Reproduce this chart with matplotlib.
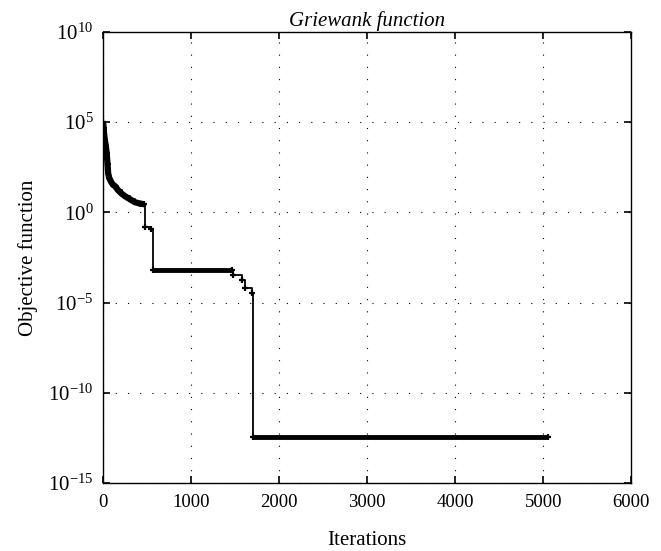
import matplotlib
matplotlib.use("Agg")
import matplotlib.pyplot as plt
from matplotlib.ticker import LogFormatterSciNotation

plt.rcParams["font.family"] = ["Liberation Serif", "DejaVu Serif"]
plt.rcParams["mathtext.fontset"] = "custom"
plt.rcParams["mathtext.rm"] = "Liberation Serif"
plt.rcParams["mathtext.it"] = "Liberation Serif:italic"

# best-so-far objective value
iterations = [0, 5, 12, 20, 30, 40, 50, 57, 70, 90, 110, 136, 170, 210, 250,
              300, 364, 420, 470, 480, 540, 570, 1460, 1480, 1575, 1615, 1690,
              1700, 5050]
objective = [1e5, 5e4, 2e4, 1e4, 5e3, 2e3, 5e2, 1.5e2, 80, 50, 35, 28, 17, 11,
             7.8, 5.5, 3.6, 3.1, 2.8, 0.15, 0.12, 6.8e-4, 6.8e-4, 3.6e-4,
             1.9e-4, 6.8e-5, 3.6e-5, 3.6e-13, 3.6e-13]

x_ticks = [0, 1000, 2000, 3000, 4000, 5000, 6000]
y_ticks = [1e-15, 1e-10, 1e-5, 1e0, 1e5, 1e10]

fig = plt.figure(figsize=(6.61, 5.51), dpi=100)
ax = fig.add_axes([0.156, 0.1234, 0.799, 0.8186])

ax.plot(iterations, objective, color="black", lw=1.3, drawstyle="steps-post")
ax.plot(iterations, objective, color="black", lw=0, marker="+", ms=5, mew=1.6)

# early decay looks like a thick smooth band in the reference
n_early = iterations.index(470) + 1
ax.plot(iterations[:n_early], objective[:n_early], color="black", lw=4.5,
        solid_capstyle="butt")

# long flat plateaus appear thick (dense '+' markers)
i_a = iterations.index(570)
i_b = iterations.index(1700)
ax.hlines([objective[i_a], objective[i_b]],
          [iterations[i_a], iterations[i_b]],
          [iterations[i_a + 1], iterations[i_b + 1]],
          color="black", lw=3.5)

ax.set_yscale("log")
ax.set_xlim(0, 6000)
ax.set_ylim(1e-15, 1e10)
ax.set_xticks(x_ticks)
ax.set_yticks(y_ticks)
ax.yaxis.set_major_formatter(LogFormatterSciNotation())
ax.minorticks_off()
ax.tick_params(direction="in", length=5, width=1.2, top=True, right=True,
               labelsize=13.5, pad=8)
ax.tick_params(axis="y", labelsize=15, pad=7)

ax.grid(True, color="black", linestyle=(0, (1, 10)), lw=0.8)
for s in ax.spines.values():
    s.set_linewidth(1.0)

ax.set_xlabel("Iterations", fontsize=15, labelpad=14)
ax.set_ylabel("Objective function", fontsize=15, labelpad=7)
ax.set_title("Griewank function", fontsize=15, style="italic", pad=4)

fig.savefig("out.png", dpi=100)
